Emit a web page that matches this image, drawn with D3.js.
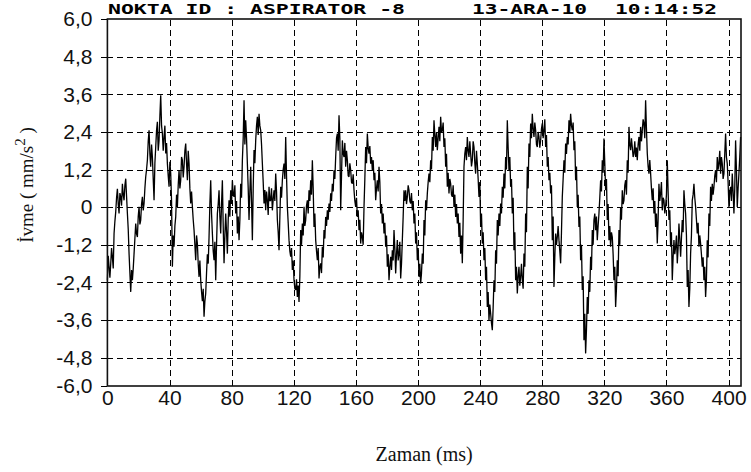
<!DOCTYPE html>
<html><head><meta charset="utf-8">
<script src="https://cdn.jsdelivr.net/npm/d3@7/dist/d3.min.js"></script>
<style>html,body{margin:0;padding:0;background:#fff;}svg{display:block;}</style>
</head><body>
<svg id="chart" width="751" height="472"></svg>
<script>
// ---- data ----
const titleParts = ["NOKTA ID : ASPIRATOR -8", "13-ARA-10", "10:14:52"];
const xTicks = [0, 40, 80, 120, 160, 200, 240, 280, 320, 360, 400];
const xTickLabels = ["0", "40", "80", "120", "160", "200", "240", "280", "320", "360", "400"];
const yTicks = [-6, -4.8, -3.6, -2.4, -1.2, 0, 1.2, 2.4, 3.6, 4.8, 6];
const yTickLabels = ["-6,0", "-4,8", "-3,6", "-2,4", "-1,2", "0", "1,2", "2,4", "3,6", "4,8", "6,0"];
const xDomain = [0, 408];
const yVisible = [-5.7, 6];   // the frame cuts the lower end; the -6,0 label sits on the frame
const xTitle = "Zaman (ms)";
const yTitle = ["İvme ( mm/s", "2", " )"];
const sampleIntervalMs = 0.5365;
const accel = [
-2.33,-1.55,-1.90,-2.25,-1.80,-1.30,-1.60,-1.95,-0.84,-0.45,
-0.15,0.30,0.59,0.10,-0.20,0.45,0.33,0.05,0.75,0.40,
0.22,0.70,0.91,0.35,-0.20,-0.70,-1.48,-2.10,-2.70,-2.00,
-2.33,-1.95,-1.48,-1.00,-0.52,-0.85,-0.95,-0.30,0.01,-0.55,
-0.41,0.10,0.33,-0.10,0.12,0.60,0.97,1.20,1.50,2.10,
2.45,1.70,1.29,2.00,1.60,0.90,0.22,1.40,1.92,2.45,
2.72,1.80,2.13,2.90,3.57,2.60,2.35,1.80,2.24,2.60,
1.71,2.05,1.39,1.00,0.65,1.45,1.07,0.20,-1.90,-0.90,
-1.26,-0.60,-0.31,0.40,0.01,0.70,1.18,0.60,0.86,1.60,
1.50,0.95,1.29,1.80,2.03,1.40,0.86,1.80,1.39,0.60,
0.12,0.50,0.01,-0.40,-0.73,-1.20,-1.69,-0.90,-1.16,-1.80,
-2.22,-1.70,-2.33,-2.70,-3.00,-2.60,-3.49,-3.00,-2.75,-2.10,
-1.50,-1.80,-0.95,0.10,0.86,-0.20,-0.84,-1.40,-1.69,-1.10,
-2.33,-1.20,-0.20,0.10,0.54,-0.30,-0.84,0.10,0.86,-0.60,
-1.79,-0.90,-0.20,-0.80,-1.48,-0.40,0.22,-0.30,0.54,0.10,
0.86,0.40,0.33,0.70,-0.20,0.20,-0.84,-0.30,-1.05,-0.40,
0.75,0.30,1.50,2.20,3.41,2.00,2.77,2.20,1.39,0.60,
-0.41,0.50,1.29,0.20,-1.05,0.60,1.82,1.40,2.13,2.60,
2.88,2.30,2.98,2.60,2.45,2.00,1.39,0.80,0.12,0.55,
-0.10,0.50,0.22,-0.25,0.65,0.20,0.22,0.60,-0.10,0.25,
0.54,0.20,1.07,0.50,-0.41,-0.80,-1.37,-0.30,0.65,0.30,
0.86,1.20,1.39,0.90,2.24,1.00,0.01,-0.50,-1.05,-1.40,
-1.58,-1.30,-2.00,-1.70,-2.33,-2.60,-2.64,-2.30,-2.86,-2.50,
-3.02,-2.20,-0.73,-1.20,-0.52,-0.90,0.01,-0.60,-0.41,0.05,
0.22,-0.20,0.54,0.20,0.86,0.40,1.50,0.60,-0.63,-0.20,
-1.05,-1.40,-1.69,-1.30,-2.27,-1.90,-1.79,-2.10,-1.26,-1.60,
-0.73,-1.00,-0.31,-0.60,-0.10,-0.40,0.12,-0.15,0.44,0.20,
0.75,0.50,1.18,0.90,1.60,2.20,2.35,1.80,2.93,2.20,
-0.10,1.00,2.13,1.70,1.60,2.05,1.29,1.80,1.50,1.00,
0.97,1.40,1.18,0.80,0.75,1.05,0.54,0.20,0.01,0.30,
-0.31,-0.10,-0.73,-0.40,-1.16,-0.80,-0.95,-1.20,0.01,0.90,
1.92,1.40,2.35,1.90,1.71,1.95,1.39,1.60,1.18,1.50,
0.86,1.10,0.22,0.60,0.86,0.50,1.29,0.80,-0.20,0.10,
-0.52,-0.20,-0.84,-0.50,-1.26,-0.90,-1.90,-1.50,-2.33,-1.90,
-1.58,-2.00,-1.37,-1.70,-0.73,-1.30,-2.11,-1.50,-1.05,-1.70,
-1.48,-1.10,-2.27,-1.80,-1.05,-0.30,0.54,0.20,0.54,0.10,
0.33,0.70,0.54,0.20,0.12,0.45,-0.10,0.20,-0.52,-0.20,
-1.16,-0.80,-1.69,-1.30,-2.22,-1.80,-2.43,-2.10,-1.48,-1.80,
-0.41,-0.90,0.22,-0.10,0.44,0.80,
1.07,0.80,1.50,1.20,2.24,1.80,2.77,2.30,1.92,2.40,
1.82,2.20,2.56,2.10,2.88,2.40,2.45,2.70,1.92,2.20,
1.29,1.70,0.65,1.10,0.44,0.90,0.75,0.40,0.33,0.70,
0.01,0.40,-0.31,0.10,-0.52,-0.20,-0.95,-0.50,-1.48,-0.90,
-1.79,-0.40,1.29,1.70,1.92,1.50,2.24,1.80,1.60,2.10,
1.71,1.30,1.50,2.10,1.92,1.40,1.07,1.80,1.39,0.90,
0.33,0.80,-0.63,-0.20,-1.16,-0.80,-1.69,-1.30,-2.33,-1.90,
-3.18,-2.70,-3.60,-3.10,-3.39,-3.70,-3.92,-3.20,-2.33,-2.70,
-1.37,-1.80,-0.41,-0.90,-0.20,-0.60,0.12,-0.20,0.65,0.30,
1.07,0.60,1.60,1.20,2.77,1.90,1.18,1.60,0.65,0.90,
-0.20,0.30,-1.37,-0.80,-2.33,-1.90,-2.75,-2.20,-1.90,-2.50,
-2.22,-1.80,-2.33,-2.60,-1.48,-1.90,-0.20,-0.80,1.29,0.60,
2.03,1.60,2.67,2.20,2.98,2.50,2.24,2.70,2.45,2.00,
1.92,2.40,2.24,1.90,2.13,2.50,2.67,2.20,2.45,2.80,
1.92,2.30,1.29,1.60,0.86,1.10,0.44,0.70,-1.05,-0.30,
-2.54,-1.60,-0.84,-1.20,-0.95,-0.60,-1.05,-1.40,-1.79,-0.80,
0.33,0.90,1.50,1.10,2.03,1.70,2.24,2.00,2.77,2.40,
2.98,2.60,2.45,2.70,1.82,2.10,0.86,1.30,0.01,0.40,
-0.63,-0.30,-1.69,-1.20,-2.64,-2.20,-4.24,-3.40,-4.66,-3.90,
-2.86,-3.40,-2.33,-2.70,-1.58,-2.00,-0.73,-1.20,-0.41,-0.20,
-0.73,-0.30,-1.05,-0.60,-0.20,0.30,0.86,0.50,1.50,1.10,
2.19,1.40,0.54,0.90,-0.41,0.10,-1.05,-0.60,-1.26,-0.80,
-0.95,-1.50,-2.33,-1.90,-3.18,-2.60,-1.69,-2.20,-0.73,-1.20,
0.01,-0.40,0.54,0.10,0.22,0.70,0.86,0.40,1.50,1.10,
2.56,2.00,1.82,2.20,1.92,1.60,1.71,2.10,1.60,1.90,
1.50,2.00,2.24,1.80,2.56,2.10,2.45,2.80,2.67,2.20,
3.41,2.50,1.71,1.30,1.07,1.50,1.07,0.60,0.22,0.60,
-0.20,0.20,-0.63,-0.20,-1.16,-0.40,0.75,0.20,0.44,0.80,
-0.10,0.30,0.22,-0.20,0.01,0.40,1.50,0.50,-0.41,-0.10,
-1.26,-0.80,-2.33,-1.60,-1.05,-1.50,-1.26,-0.90,-1.79,-1.30,
-0.52,-1.00,-1.58,-1.00,-0.41,-0.80,0.54,0.10,-0.20,-0.90,
-2.54,-2.00,-3.18,-2.60,-1.48,-0.90,0.22,0.40,0.75,0.30,
0.01,-0.40,-0.84,-0.50,-1.26,-0.90,-1.16,-1.50,-1.90,-1.60,
-2.33,-1.90,-2.86,-2.30,-1.05,-1.60,-0.20,-0.60,0.65,0.20,
0.75,0.40,0.65,1.00,1.18,0.80,1.60,1.20,1.39,1.80,
1.07,1.60,1.39,0.90,1.07,1.70,2.35,1.60,1.39,0.80,
0.01,0.50,0.65,0.20,1.07,0.50,-0.20,0.60,2.13,1.20,
0.01,0.60,1.07,1.60,2.24
];

// ---- layout ----
const L = 107.4, R = 741, T = 19, B = 386;
const svg = d3.select("#chart");
const x = d3.scaleLinear().domain(xDomain).range([L, R]);
const y = d3.scaleLinear().domain(yVisible).range([B, T]).clamp(true);
const labelFont = "'Liberation Sans Narrow','Arial Narrow','Liberation Sans',Arial,sans-serif";
const serif = "'Liberation Serif','Times New Roman',serif";

// grid lines (dashed)
const yGrid = svg.append("g").attr("transform", `translate(${L},0)`)
  .call(d3.axisLeft(y).tickValues(yTicks.filter(v => v > yVisible[0] && v < yVisible[1]))
    .tickSize(-(R - L)).tickFormat(""));
yGrid.select(".domain").remove();
yGrid.selectAll("line").attr("stroke", "#000").attr("stroke-dasharray", "6,4").attr("shape-rendering", "crispEdges");

const xGrid = svg.append("g").attr("transform", `translate(0,${B})`)
  .call(d3.axisBottom(x).tickValues(xTicks.filter(v => v > xDomain[0]))
    .tickSize(-(B - T)).tickFormat(""));
xGrid.select(".domain").remove();
xGrid.selectAll("line").attr("stroke", "#000").attr("stroke-dasharray", "6,4").attr("shape-rendering", "crispEdges");

// signal
const line = d3.line().x((d, i) => x(i * sampleIntervalMs)).y(d => y(d));
svg.append("path").datum(accel)
  .attr("d", line).attr("fill", "none").attr("stroke", "#000").attr("stroke-width", 1.3)
  .attr("stroke-linejoin", "bevel");

// frame
svg.append("rect").attr("x", L).attr("y", T).attr("width", R - L).attr("height", B - T)
  .attr("fill", "none").attr("stroke", "#111").attr("stroke-width", 1.6);

// y axis ticks + labels
const yAx = svg.append("g").attr("transform", `translate(${L},0)`)
  .call(d3.axisLeft(y).tickValues(yTicks).tickFormat((d, i) => yTickLabels[i]).tickSize(6).tickPadding(9));
yAx.select(".domain").remove();
yAx.selectAll("line").attr("stroke", "#000").attr("shape-rendering", "crispEdges");
yAx.selectAll("text").attr("font-family", labelFont).attr("font-size", 21).attr("fill", "#111");

// x axis labels
const xAx = svg.append("g").attr("transform", `translate(0,${B})`)
  .call(d3.axisBottom(x).tickValues(xTicks).tickFormat((d, i) => xTickLabels[i]).tickSize(0).tickPadding(4));
xAx.select(".domain").remove();
xAx.selectAll("text").attr("font-family", labelFont).attr("font-size", 21).attr("fill", "#111");

// axis titles
svg.append("text").attr("x", (L + R) / 2).attr("y", 461).attr("text-anchor", "middle")
  .attr("font-family", serif).attr("font-size", 20).attr("fill", "#111")
  .text(xTitle);
const yt = svg.append("text").attr("transform", "translate(33,185) rotate(-90)").attr("text-anchor", "middle")
  .attr("font-family", serif).attr("font-size", 19).attr("fill", "#111");
yt.append("tspan").text(yTitle[0]);
yt.append("tspan").attr("dy", -8).attr("font-size", 15).text(yTitle[1]);
yt.append("tspan").attr("dy", 8).text(yTitle[2]);

// title
const titleX = [108, 472, 615];
const titleW = [297, 115, 102];
titleParts.forEach((t, i) => {
  svg.append("text").attr("x", titleX[i]).attr("y", 14)
    .attr("font-family", "'DejaVu Sans Mono','Liberation Mono',monospace").attr("font-weight", "bold")
    .attr("font-size", 14).attr("fill", "#000")
    .attr("textLength", titleW[i]).attr("lengthAdjust", "spacingAndGlyphs")
    .text(t);
});
</script>
</body></html>
